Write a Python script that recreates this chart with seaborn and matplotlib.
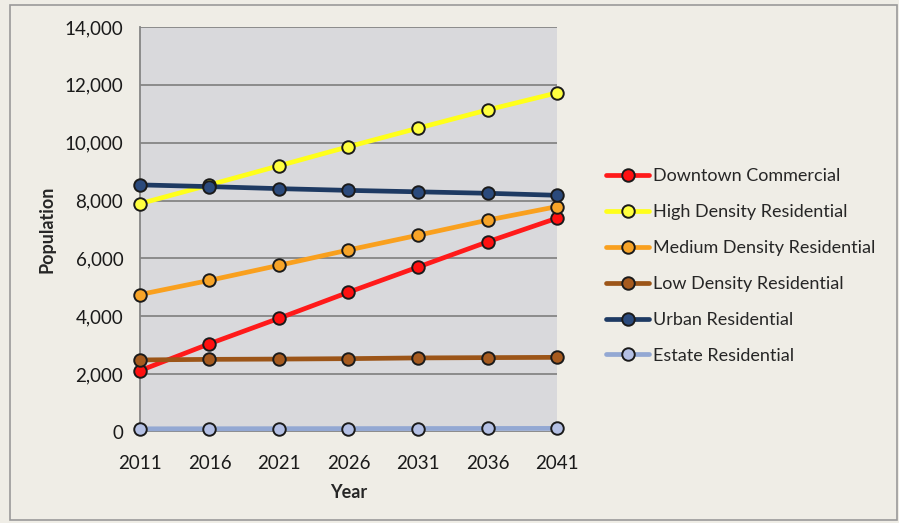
import matplotlib
matplotlib.use("Agg")
import matplotlib.pyplot as plt
from matplotlib.patches import Rectangle
from matplotlib.ticker import FuncFormatter, MultipleLocator
import pandas as pd
import seaborn as sns

years = [2011, 2016, 2021, 2026, 2031, 2036, 2041]
zones = [
    "Downtown Commercial",
    "High Density Residential",
    "Medium Density Residential",
    "Low Density Residential",
    "Urban Residential",
    "Estate Residential",
]
downtown_commercial = [2120, 3050, 3930, 4830, 5700, 6570, 7390]
high_density = [7890, 8540, 9200, 9860, 10500, 11130, 11720]
medium_density = [4750, 5240, 5760, 6290, 6800, 7320, 7790]
low_density = [2490, 2510, 2520, 2535, 2560, 2570, 2580]
urban_residential = [8540, 8480, 8410, 8350, 8300, 8250, 8180]
estate_residential = [110, 112, 115, 117, 120, 122, 125]

series = [downtown_commercial, high_density, medium_density,
          low_density, urban_residential, estate_residential]
line_colors = ["#ff1a1a", "#ffff1a", "#f9a01e", "#9c5518", "#1e3a63", "#93a8d3"]
face_colors = ["#ff1010", "#ffff40", "#f7a428", "#a65a1e", "#2b4a7c", "#b4c0e4"]

df = pd.DataFrame(
    [(z, y, v) for z, vals in zip(zones, series) for y, v in zip(years, vals)],
    columns=["Zone", "Year", "Population"],
)

sns.set_theme(style="white")
plt.rcParams["font.family"] = ["Lato", "DejaVu Sans"]

fig = plt.figure(figsize=(8.99, 5.23), dpi=100)
fig.patch.set_facecolor("#efede6")
fig.patches.append(Rectangle((0.011, 0.006), 0.987, 0.985, transform=fig.transFigure,
                             fill=False, edgecolor="#9a9a9a", linewidth=1.2))

ax = fig.add_axes([0.1557, 0.174, 0.4639, 0.7746])
ax.set_facecolor("#d9d9dc")

sns.lineplot(data=df, x="Year", y="Population", hue="Zone", hue_order=zones,
             palette=dict(zip(zones, line_colors)), linewidth=3.4, ax=ax,
             legend=False, zorder=3)
for z, vals, fc, lc in zip(zones, series, face_colors, line_colors):
    ax.plot(years, vals, linestyle="none", marker="o", markersize=9,
            markerfacecolor=fc, markeredgecolor="#1a1a1a", markeredgewidth=1.4,
            clip_on=False, zorder=4)

ax.set_xlim(2011, 2041)
ax.set_ylim(0, 14000)
ax.set_xticks(years)
ax.yaxis.set_major_locator(MultipleLocator(2000))
ax.yaxis.set_major_formatter(FuncFormatter(lambda v, p: f"{int(v):,}"))
ax.grid(axis="y", color="#858585", linewidth=1.3, zorder=0)
ax.set_axisbelow(True)
for side in ["top", "right", "bottom"]:
    ax.spines[side].set_visible(False)
ax.spines["left"].set_color("#858585")
ax.spines["left"].set_linewidth(1.3)
ax.tick_params(axis="both", labelsize=13.5, colors="#1a1a1a", length=0)
ax.tick_params(axis="y", pad=12)
ax.tick_params(axis="x", pad=16.5)
ax.set_xlabel("Year", fontsize=13, fontweight="bold", labelpad=9)
ax.set_ylabel("Population", fontsize=13, fontweight="bold", labelpad=6.5)

handles = [
    plt.Line2D([0], [0], color=lc, linewidth=3.4, marker="o", markersize=9,
               markerfacecolor=fc, markeredgecolor="#1a1a1a", markeredgewidth=1.4)
    for lc, fc in zip(line_colors, face_colors)
]
fig.legend(handles, zones, loc="upper left", bbox_to_anchor=(0.656, 0.709),
           frameon=False, fontsize=13, handlelength=2.4, handletextpad=0.2,
           labelspacing=1.1)

fig.savefig("out.png", dpi=100, facecolor=fig.get_facecolor())
